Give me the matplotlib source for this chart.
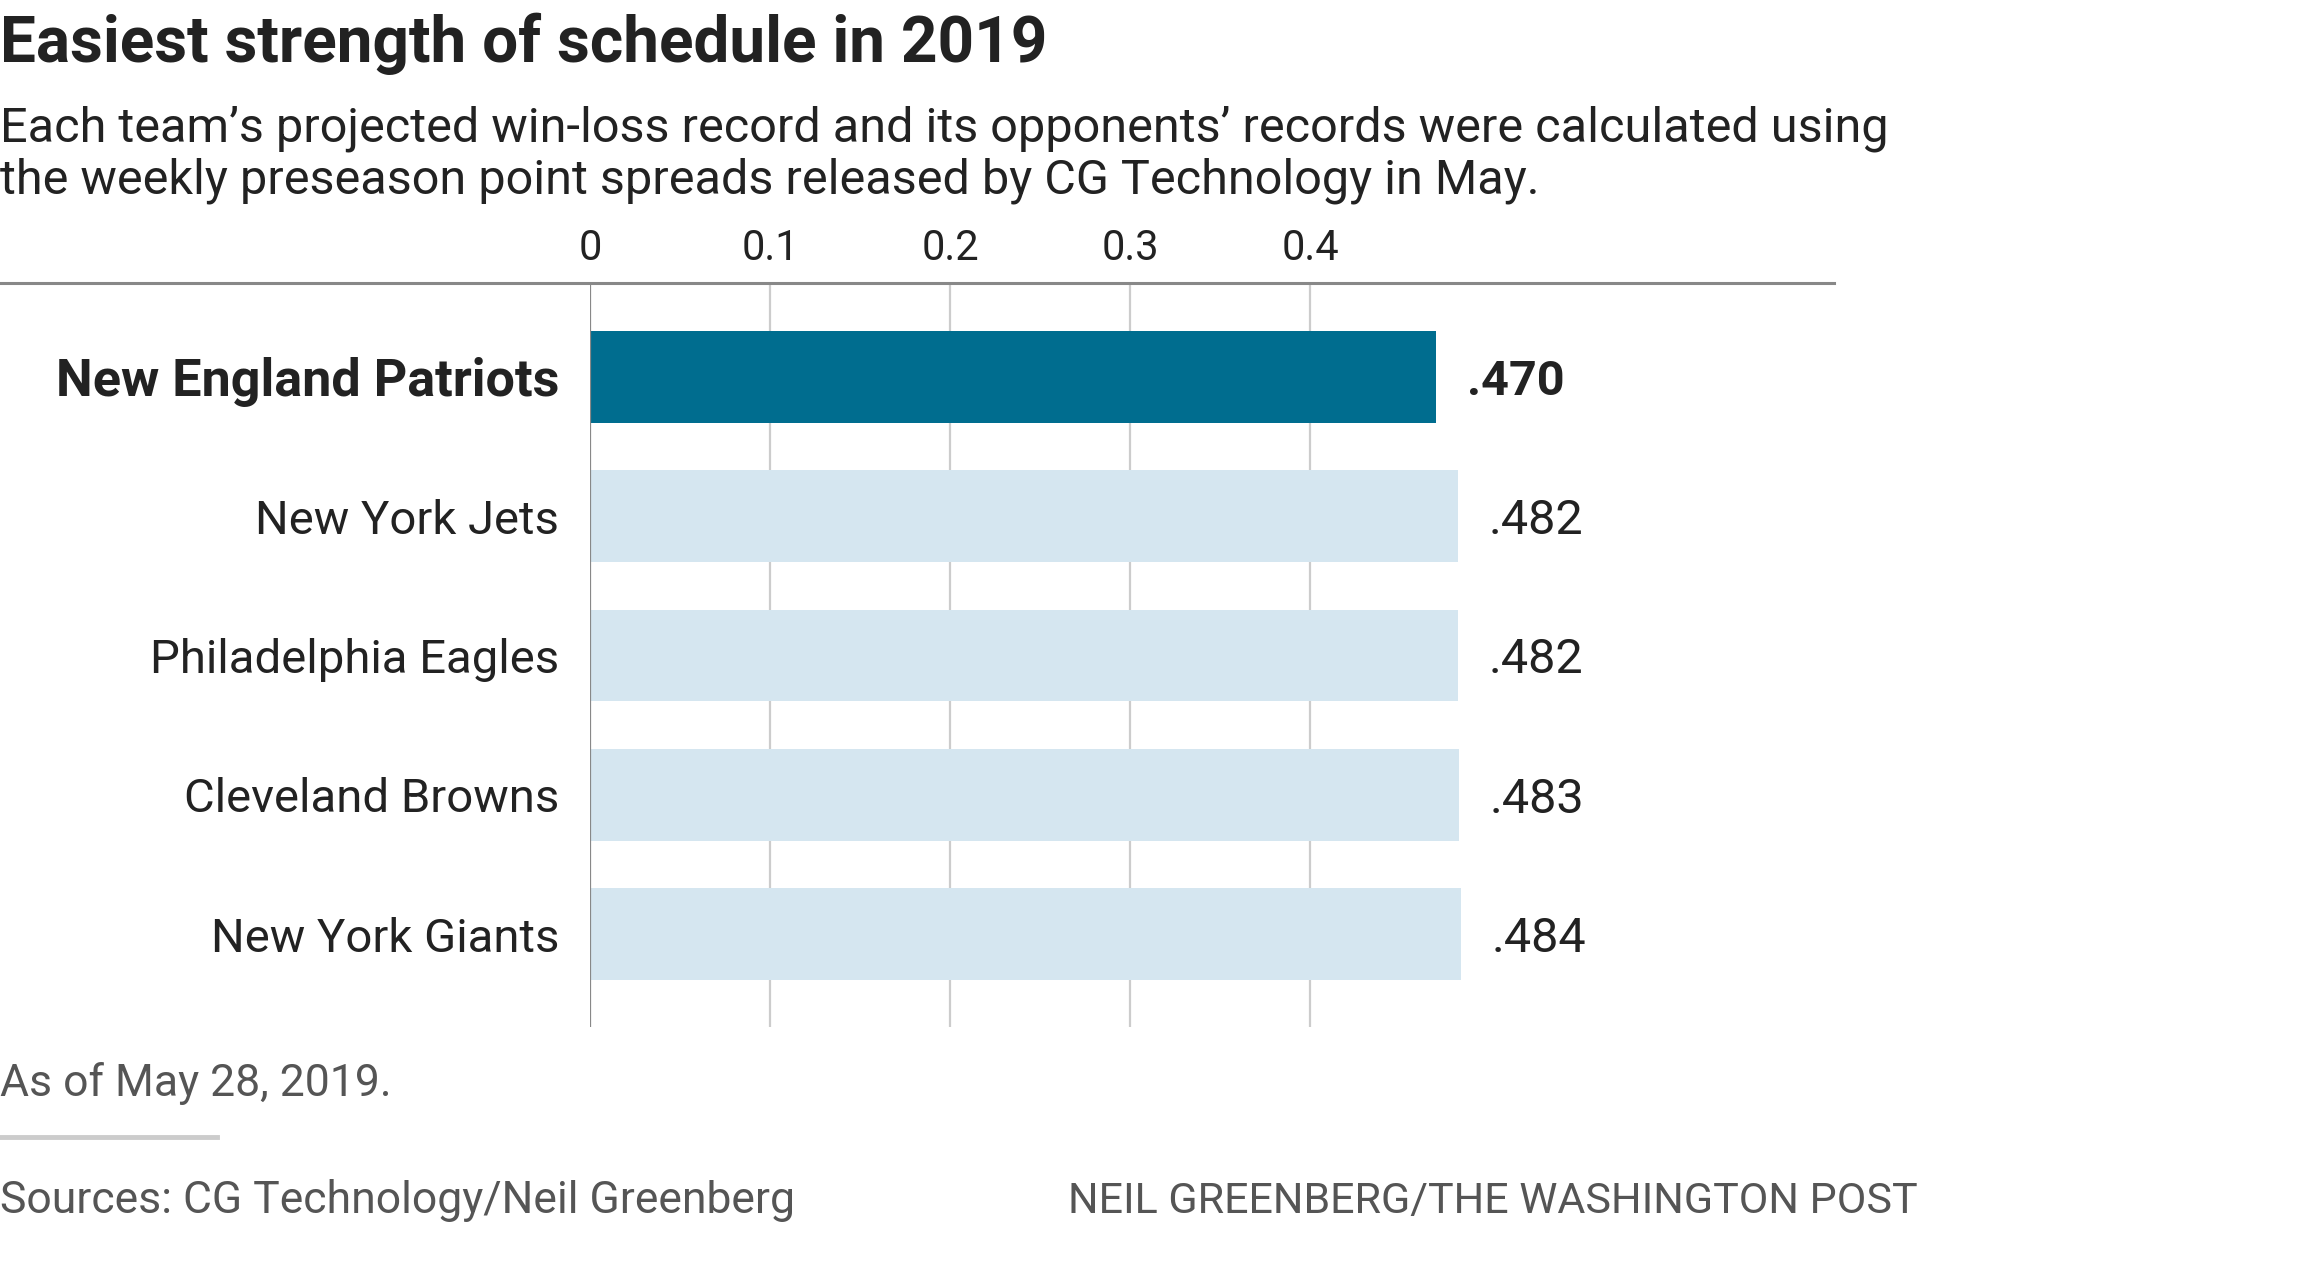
import matplotlib
matplotlib.use("Agg")
import matplotlib.pyplot as plt
from matplotlib.lines import Line2D

teams = ["New England Patriots", "New York Jets", "Philadelphia Eagles",
         "Cleveland Browns", "New York Giants"]
sos = [0.470, 0.482, 0.482, 0.483, 0.484]
ticks = [0, 0.1, 0.2, 0.3, 0.4]
tick_labels = ["0", "0.1", "0.2", "0.3", "0.4"]

W, H = 2300, 1268
FONT = ["Roboto", "DejaVu Sans"]
plt.rcParams["font.family"] = FONT

dark = "#006d8f"
light = "#d5e6f0"
txt = "#222222"
grey = "#555555"

fig = plt.figure(figsize=(W / 100, H / 100), dpi=100)

def fx(px):
    return px / W

def fy(py):
    return 1 - py / H

# axes: x=0 at 590px, 0.1 = 180px; right end at 1834px
x0, x1 = 590, 1834
y_top, y_bot = 283, 1027
ax = fig.add_axes([fx(x0), fy(y_bot), (x1 - x0) / W, (y_bot - y_top) / H])
ax.set_xlim(0, (x1 - x0) / 1800)
ax.set_ylim(len(teams) - 1 + 0.667, -0.674)

colors = [dark] + [light] * (len(teams) - 1)
ax.barh(range(len(teams)), sos, height=0.66, color=colors, zorder=3)

for t in ticks[1:]:
    ax.axvline(t, color="#cccccc", lw=1.6, zorder=1)
ax.axvline(0, color="#888888", lw=1.6, zorder=4)

for i, v in enumerate(sos):
    ax.annotate(f"{v:.3f}"[1:], (v, i), xytext=(22, 0), textcoords="offset points",
                va="center_baseline", ha="left", fontsize=35, color=txt,
                fontweight="bold" if i == 0 else "normal")

ax.set_yticks(range(len(teams)))
ax.set_yticklabels(teams, fontsize=34, color=txt)
ax.get_yticklabels()[0].set_fontweight("bold")
ax.get_yticklabels()[0].set_fontsize(37.5)
ax.tick_params(axis="y", length=0, pad=22)

ax.xaxis.tick_top()
ax.set_xticks(ticks)
ax.set_xticklabels(tick_labels, fontsize=30, color=txt)
ax.tick_params(axis="x", length=0, pad=10)

for s in ax.spines.values():
    s.set_visible(False)

# top rule across figure
fig.add_artist(Line2D([0, fx(x1)], [fy(y_top), fy(y_top)], color="#888888", lw=2.2))

fig.text(0, fy(62), "Easiest strength of schedule in 2019", fontsize=46,
         fontweight="bold", color=txt, va="baseline", ha="left")
fig.text(0, fy(142), "Each team\u2019s projected win-loss record and its opponents\u2019 records were calculated using",
         fontsize=35, color=txt, va="baseline", ha="left")
fig.text(0, fy(194), "the weekly preseason point spreads released by CG Technology in May.",
         fontsize=35, color=txt, va="baseline", ha="left")

fig.text(0, fy(1096), "As of May 28, 2019.", fontsize=32, color=grey, va="baseline", ha="left")
fig.add_artist(Line2D([0, fx(217)], [fy(1137), fy(1137)], color="#cccccc", lw=3.5))
fig.text(0, fy(1213), "Sources: CG Technology/Neil Greenberg", fontsize=32, color=grey,
         va="baseline", ha="left")
fig.text(fx(1068), fy(1213), "NEIL GREENBERG/THE WASHINGTON POST", fontsize=31, color=grey,
         va="baseline", ha="left")

fig.savefig("out.png", dpi=100, facecolor="white")
